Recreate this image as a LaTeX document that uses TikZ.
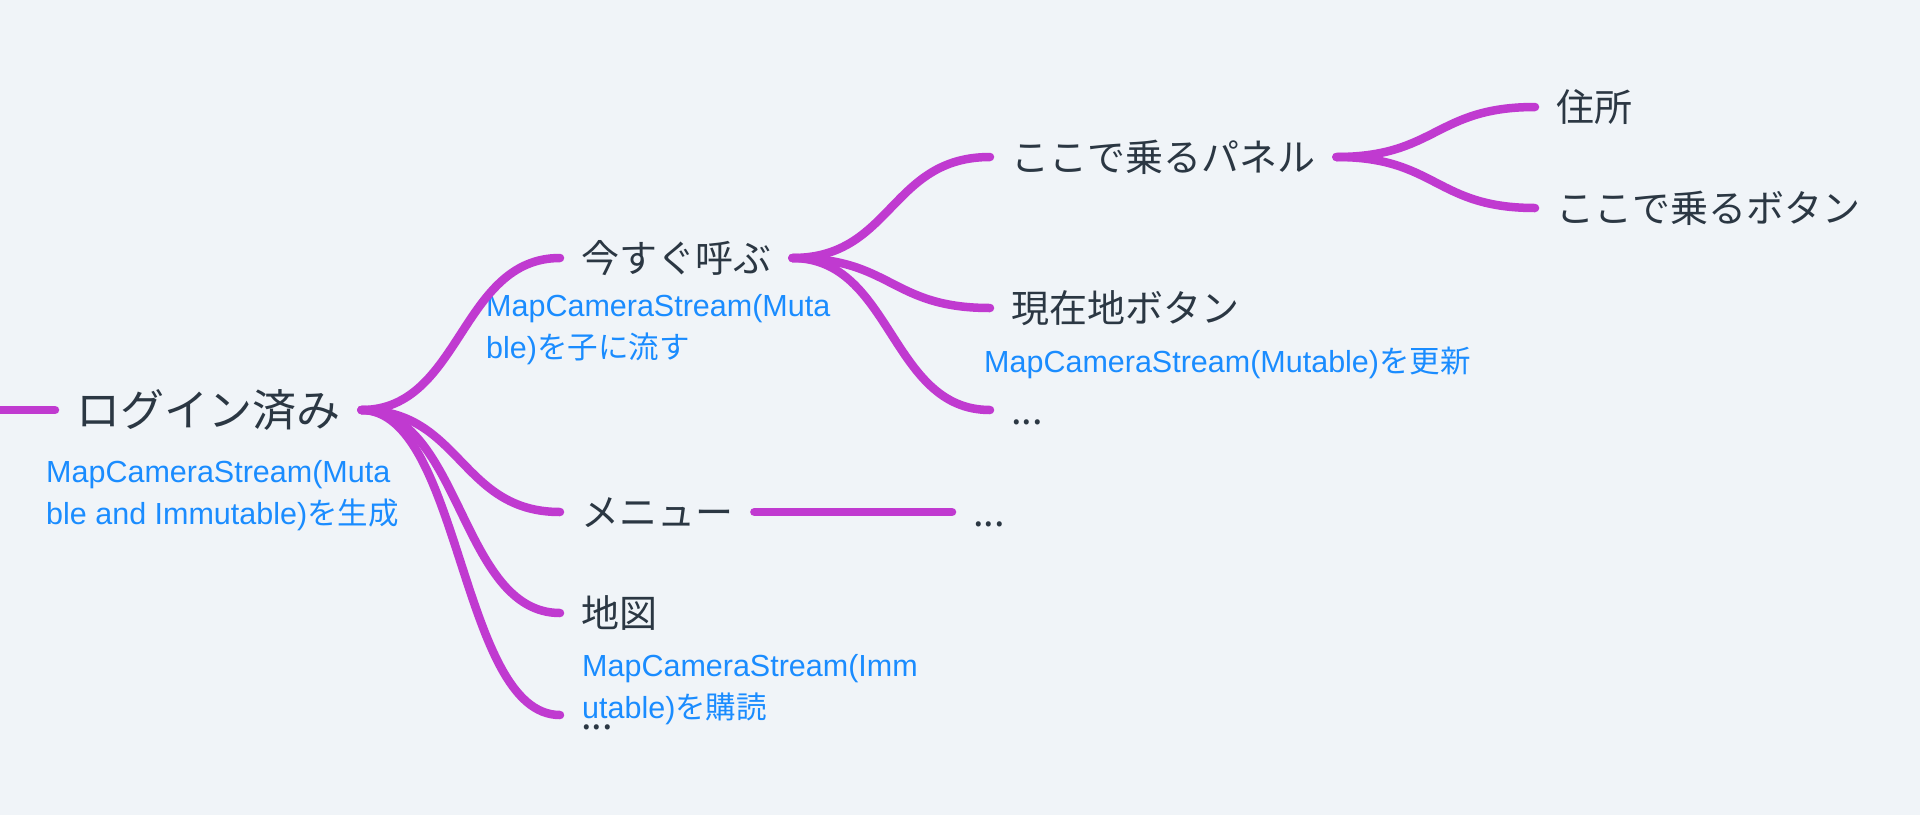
\documentclass[tikz,border=0pt]{standalone}
\usepackage{fontspec}
\setmainfont{Liberation Sans}
\newfontfamily\jp{Noto Sans CJK JP}
\definecolor{bg}{HTML}{F0F4F8}
\definecolor{twig}{HTML}{C03AD0}
\definecolor{ink}{HTML}{2B3743}
\definecolor{memo}{HTML}{1A8CFF}

\begin{document}
\begin{tikzpicture}[x = 1pt, y = -1pt]
			% Background, same size as the page
			\fill[bg] (0, 0) rectangle (1920, 815);
			\useasboundingbox (0, 0) rectangle (1920, 815);

			% Styles for the topics, the notes and the branches
			\tikzset{topic/.style = {anchor = west, inner xsep = 21pt, inner ysep = 0pt, text = ink, font = \jp\fontsize{38}{44}\selectfont, text height = 33.4pt, text depth = 4.6pt}}
			\tikzset{lead/.style = {topic, font = \jp\fontsize{44}{50}\selectfont, text height = 38.7pt, text depth = 5.3pt}}
			\tikzset{note/.style = {anchor = base west, inner sep = 0pt, align = left, text = memo, font = \fontsize{30.5}{42}\selectfont}}
			\tikzset{branch/.style = {draw = twig, line width = 8.5pt, line cap = round}}

			% Loose end of the root line
			\coordinate (stub) at (-20, 410);

			% Draw the topics
			\node[lead] (root) at (55, 410) {ログイン済み};
			\node[topic] (call) at (560, 258) {今すぐ呼ぶ};
			\node[topic] (menu) at (560, 512) {メニュー};
			\node[topic] (map) at (560, 613) {地図};
			\node[topic] (more) at (560, 715) {...};
			\node[topic] (menudots) at (952, 512) {...};
			\node[topic] (panel) at (990, 157) {ここで乗るパネル};
			\node[topic] (here) at (990, 308) {現在地ボタン};
			\node[topic] (calldots) at (990, 410) {...};
			\node[topic] (addr) at (1535, 107) {住所};
			\node[topic] (ride) at (1535, 208) {ここで乗るボタン};

			% Draw the notes (anchored at the baseline of the last line)
			\node[note] (rootnote) at (46, 524) {MapCameraStream(Muta\\ble and Immutable){\jp を生成}};
			\node[note] (callnote) at (486, 358) {MapCameraStream(Muta\\ble){\jp を子に流す}};
			\node[note] (herenote) at (984, 372) {MapCameraStream(Mutable){\jp を更新}};
			\node[note] (mapnote) at (582, 718) {MapCameraStream(Imm\\utable){\jp を購読}};

			% Draw the branches of the root
			\draw[branch] (stub) -- (root.west);
			\draw[branch] (root.east) .. controls +(100, 0) and +(-100, 0) .. (call.west);
			\draw[branch] (root.east) .. controls +(100, 0) and +(-100, 0) .. (menu.west);
			\draw[branch] (root.east) .. controls +(100, 0) and +(-100, 0) .. (map.west);
			\draw[branch] (root.east) .. controls +(100, 0) and +(-100, 0) .. (more.west);
			\draw[branch] (menu.east) -- (menudots.west);

			% Draw the branches of the call topic
			\draw[branch] (call.east) .. controls +(100, 0) and +(-100, 0) .. (panel.west);
			\draw[branch] (call.east) .. controls +(100, 0) and +(-100, 0) .. (here.west);
			\draw[branch] (call.east) .. controls +(100, 0) and +(-100, 0) .. (calldots.west);

			% Draw the branches of the panel topic
			\draw[branch] (panel.east) .. controls +(100, 0) and +(-100, 0) .. (addr.west);
			\draw[branch] (panel.east) .. controls +(100, 0) and +(-100, 0) .. (ride.west);

		\end{tikzpicture}
\end{document}
